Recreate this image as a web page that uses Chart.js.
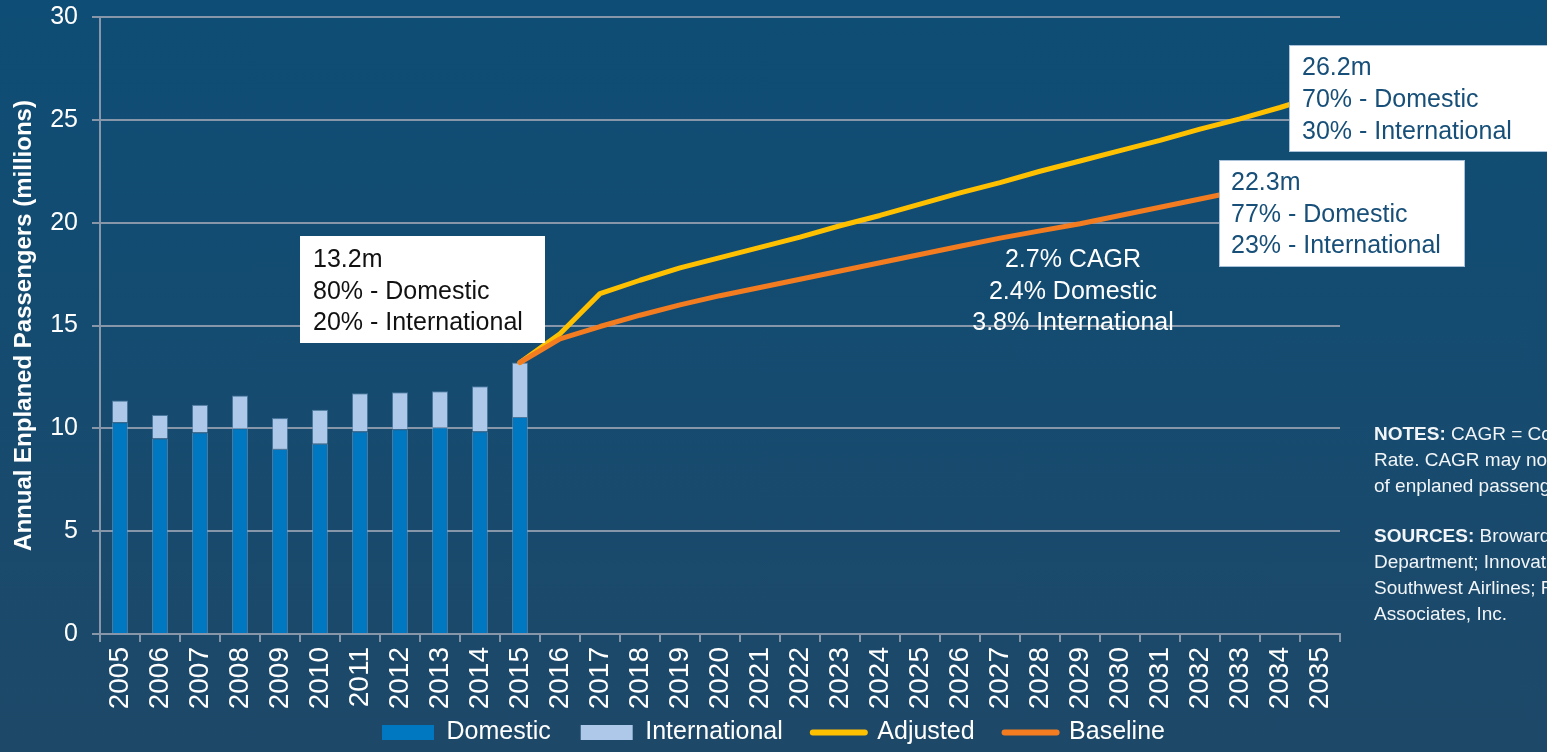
<!DOCTYPE html>
<html>
<head>
<meta charset="utf-8">
<script src="https://cdn.jsdelivr.net/npm/chart.js@4.4.1/dist/chart.umd.min.js"></script>
<style>
	html, body { margin: 0; padding: 0; }
	body { width: 1547px; height: 752px; overflow: hidden; background: linear-gradient(180deg, #0e4d75 0%, #164b6f 55%, #1e4868 100%); }
	canvas { display: block; }
</style>
</head>
<body>
<canvas id="enplChart" width="1547" height="752"></canvas>

<script>
	// years on the x axis
	const years = ['2005', '2006', '2007', '2008', '2009', '2010', '2011', '2012', '2013', '2014', '2015',
		'2016', '2017', '2018', '2019', '2020', '2021', '2022', '2023', '2024', '2025',
		'2026', '2027', '2028', '2029', '2030', '2031', '2032', '2033', '2034', '2035'];

	// historic enplanements (millions), 2005-2015
	const domestic = [10.3, 9.5, 9.8, 10.0, 9.0, 9.25, 9.85, 9.95, 10.05, 9.85, 10.55];
	const international = [1.05, 1.15, 1.35, 1.6, 1.5, 1.65, 1.85, 1.8, 1.75, 2.2, 2.65];

	// forecasts (millions), 2015-2035
	const adjusted = [13.2, 14.6, 16.55, 17.2, 17.8, 18.3, 18.8, 19.3, 19.85, 20.35, 20.9,
		21.45, 21.95, 22.5, 23.0, 23.5, 24.0, 24.55, 25.05, 25.6, 26.2];
	const baseline = [13.2, 14.35, 14.95, 15.5, 16.0, 16.45, 16.85, 17.25, 17.65, 18.05, 18.45,
		18.85, 19.25, 19.6, 19.95, 20.35, 20.75, 21.15, 21.55, 21.9, 22.3];

	const yTicks = [0, 5, 10, 15, 20, 25, 30];

	const FONT = '"Liberation Sans", Arial, sans-serif';
	const GRID = '#8796a8';

	// forecast series only start in 2015
	const pad = new Array(years.length - adjusted.length).fill(null);

	const notesPlugin = {
		id: 'notesPlugin',
		beforeDraw(chart) {
			// let the rotated year labels run past the axis box
			chart.scales.x._computeLabelArea = () => null;
		},
		afterDatasetsDraw(chart) {
			const c = chart.ctx;
			c.save();
			c.textBaseline = 'middle';
			c.font = '25px ' + FONT;

			function box(x, y, w, h, lines, tx, ty, color, border) {
				c.fillStyle = '#ffffff';
				c.fillRect(x, y, w, h);
				if (border) {
					c.strokeStyle = border;
					c.lineWidth = 1;
					c.strokeRect(x + 0.5, y + 0.5, w - 1, h - 1);
				}
				c.fillStyle = color;
				c.textAlign = 'left';
				lines.forEach((t, i) => c.fillText(t, tx, ty[i]));
			}

			box(300, 236, 245, 107, ['13.2m', '80% - Domestic', '20% - International'], 313, [260, 292, 323], '#111111');
			box(1289, 45, 280, 107, ['26.2m', '70% - Domestic', '30% - International'], 1302, [68, 100, 132], '#174f78', '#a9c2da');
			box(1219, 160, 246, 107, ['22.3m', '77% - Domestic', '23% - International'], 1231, [183, 215, 246], '#174f78', '#a9c2da');

			// growth rates in the middle
			c.fillStyle = '#ffffff';
			c.textAlign = 'center';
			c.fillText('2.7% CAGR', 1073, 260);
			c.fillText('2.4% Domestic', 1073, 292);
			c.fillText('3.8% International', 1073, 323);
			c.restore();
		},
		afterDraw(chart) {
			const c = chart.ctx;
			c.save();
			c.textBaseline = 'middle';
			c.textAlign = 'left';
			c.fillStyle = '#f2f5f8';

			function para(head, lines, x, y0) {
				c.font = 'bold 19px ' + FONT;
				c.fillText(head, x, y0);
				const w = c.measureText(head + ' ').width;
				c.font = '19px ' + FONT;
				c.fillText(lines[0], x + w, y0);
				for (let i = 1; i < lines.length; i++) c.fillText(lines[i], x, y0 + i * 26);
			}

			para('NOTES:', ['CAGR = Compound Annual Growth', 'Rate. CAGR may not add due to the mix', 'of enplaned passengers.'], 1374, 435);
			para('SOURCES:', ['Broward County Aviation', 'Department; Innovata, LLC;', 'Southwest Airlines; Ricondo &', 'Associates, Inc.'], 1374, 537);
			c.restore();
		}
	};

	const ctx = document.getElementById('enplChart').getContext('2d');
	const enplChart = new Chart(ctx, {
		data: {
			labels: years,
			datasets: [
				{
					type: 'bar', label: 'Domestic', data: domestic, stack: 'hist', order: 2,
					backgroundColor: '#0078c1', borderColor: 'rgba(110,150,190,0.6)', borderWidth: 1,
					barPercentage: 0.4, categoryPercentage: 1.0
				},
				{
					type: 'bar', label: 'International', data: international, stack: 'hist', order: 2,
					backgroundColor: '#adc8e8', borderColor: 'rgba(110,150,190,0.6)', borderWidth: 1,
					barPercentage: 0.4, categoryPercentage: 1.0
				},
				{
					type: 'line', label: 'Adjusted', data: pad.concat(adjusted), stack: 'adj', order: 1,
					borderColor: '#ffc000', backgroundColor: '#ffc000', borderWidth: 5,
					pointRadius: 0, borderCapStyle: 'round', borderJoinStyle: 'round', tension: 0
				},
				{
					type: 'line', label: 'Baseline', data: pad.concat(baseline), stack: 'base', order: 0,
					borderColor: '#f47c20', backgroundColor: '#f47c20', borderWidth: 5,
					pointRadius: 0, borderCapStyle: 'round', borderJoinStyle: 'round', tension: 0
				}
			]
		},
		options: {
			responsive: false,
			animation: false,
			devicePixelRatio: 1,
			layout: { padding: { top: 17, bottom: -3, left: 0, right: 0 } },
			scales: {
				x: {
					stacked: true,
					offset: true,
					grid: { offset: true, drawOnChartArea: false, drawTicks: true, tickLength: 8, color: GRID, lineWidth: 2 },
					border: { display: true, color: GRID, width: 2 },
					ticks: { color: '#ffffff', font: { family: FONT, size: 28 }, minRotation: 90, maxRotation: 90, autoSkip: false, padding: 5 },
					afterFit: s => { s.height = 56; }
				},
				y: {
					stacked: true,
					min: 0, max: 30,
					afterBuildTicks: s => { s.ticks = yTicks.map(v => ({ value: v })); },
					grid: { color: GRID, lineWidth: 2, tickLength: 8 },
					border: { display: true, color: GRID, width: 2 },
					ticks: { color: '#ffffff', font: { family: FONT, size: 25 }, padding: 14 },
					title: {
						display: true, text: 'Annual Enplaned Passengers (millions)', color: '#ffffff',
						font: { family: FONT, size: 24, weight: 'bold' }, padding: { top: 10, bottom: 0 }
					},
					afterFit: s => { s.width = 100; s.paddingTop = 0; s.paddingBottom = 0; }
				},
				yRight: {
					position: 'right',
					display: true,
					grid: { display: false },
					border: { display: false },
					ticks: { display: false },
					afterFit: s => { s.width = 207; s.paddingTop = 0; s.paddingBottom = 0; }
				}
			},
			plugins: {
				tooltip: { enabled: false },
				legend: {
					position: 'bottom',
					labels: {
						color: '#ffffff',
						font: { family: FONT, size: 25 },
						usePointStyle: true,
						pointStyleWidth: 52,
						boxHeight: 15,
						padding: 30,
						generateLabels: chart => chart.data.datasets.map((ds, i) => {
							const isLine = ds.type === 'line';
							return {
								text: ds.label,
								datasetIndex: i,
								fillStyle: isLine ? ds.borderColor : ds.backgroundColor,
								strokeStyle: ds.borderColor,
								lineWidth: isLine ? 6 : 0,
								lineCap: 'round',
								pointStyle: isLine ? 'line' : 'rect',
								fontColor: '#ffffff',
								hidden: false
							};
						}),
						sort: (a, b) => a.datasetIndex - b.datasetIndex
					}
				}
			}
		},
		plugins: [notesPlugin]
	});
</script>
</body>
</html>
